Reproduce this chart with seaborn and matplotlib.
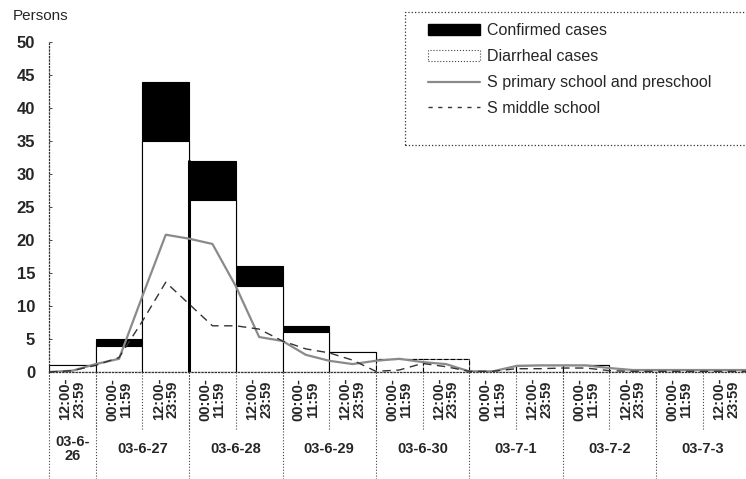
import numpy as np
import matplotlib
matplotlib.use('Agg')
import matplotlib.pyplot as plt
from matplotlib.patches import Patch, Rectangle
from matplotlib.lines import Line2D
import seaborn as sns

# half-day slots from 03-6-26 12:00 to 03-7-3 23:59
slot_labels = ['12:00-\n23:59'] + ['00:00-\n11:59', '12:00-\n23:59'] * 7
dates = ['03-6-\n26', '03-6-27', '03-6-28', '03-6-29', '03-6-30', '03-7-1', '03-7-2', '03-7-3']
date_slots = [1, 2, 2, 2, 2, 2, 2, 2]

diarrheal = [1, 4, 35, 26, 13, 6, 3, 2, 2, 0, 1, 1, 0, 0, 0]
confirmed = [0, 1, 9, 6, 3, 1, 0, 0, 0, 0, 0, 0, 0, 0, 0]

# school curves, one point every 6 hours starting 03-6-26 12:00
hours = list(range(0, 181, 6))
primary = [0, 0.2, 1.2, 2, 11.5, 20.8, 20.2, 19.4, 13, 5.3, 4.7, 2.6, 1.7, 1.2, 1.7, 2,
           1.5, 1.2, 0.1, 0.1, 0.9, 1, 1, 1, 0.6, 0.3, 0.3, 0.3, 0.3, 0.3, 0.3]
middle = [0, 0.2, 1, 2.2, 7.7, 13.6, 10.3, 7, 7, 6.5, 4.7, 3.5, 2.9, 1.8, 0.1, 0.3,
          1.3, 0.8, 0.1, 0.1, 0.5, 0.5, 0.6, 0.6, 0.2, 0.1, 0.1, 0.1, 0.1, 0.1, 0.1]

sns.set_style('white')
plt.rcParams['font.family'] = ['Liberation Sans', 'DejaVu Sans']

fig = plt.figure(figsize=(7.46, 4.79), dpi=100)
ax = fig.add_axes([49 / 746, 107 / 479, 697 / 746, 330 / 479])

slots = list(range(len(diarrheal)))
total = [d + c for d, c in zip(diarrheal, confirmed)]
# black total first, white diarrheal over it -> stacked look
sns.barplot(x=slots, y=total, color='black', width=1, saturation=1,
            edgecolor='black', linewidth=0.8, ax=ax)
sns.barplot(x=slots, y=diarrheal, color='white', width=1, saturation=1,
            edgecolor='black', linewidth=0.8, ax=ax)
white_bars = ax.patches[len(slots):]
for p in white_bars[7:9]:
    p.set_linestyle((0, (4, 2)))
# heavy left edge of the 03-6-28 morning bar
b = white_bars[3]
ax.plot([b.get_x(), b.get_x()], [0, total[3]], color='black', lw=2.2)

pos = [h / 12 - 0.5 for h in hours]
sns.lineplot(x=pos, y=primary, color='#8a8a8a', lw=1.6, ax=ax)
sns.lineplot(x=pos, y=middle, color='#333333', lw=1.0, linestyle=(0, (6, 4)), ax=ax)

ax.set_xlim(-0.5, -0.5 + 697 / 46.7)
ax.set_ylim(0, 50)
ax.set_yticks(range(0, 51, 5))
ax.set_xticks([])
ax.set_xlabel('')
ax.set_ylabel('')
ax.tick_params(axis='y', left=True, direction='in', length=2.5, width=0.6,
               labelsize=12, pad=10)
for t in ax.get_yticklabels():
    t.set_fontweight('bold')
for s in ['top', 'right']:
    ax.spines[s].set_visible(False)
for s in ['left', 'bottom']:
    ax.spines[s].set_linestyle(':')
    ax.spines[s].set_linewidth(0.9)
    ax.spines[s].set_color('#333333')

# table of time slots and dates below the axis
for e in np.arange(len(slots) + 1) - 0.5:
    ax.plot([e, e], [0, -8.6], color='#444444', ls=':', lw=0.8, clip_on=False)
for i, lab in enumerate(slot_labels):
    ax.text(i, -0.9, lab, rotation=90, ha='center', va='top', fontsize=10.5,
            fontweight='bold', linespacing=1.0)
start = 0
for d, n in zip(dates, date_slots):
    ax.plot([start - 0.5, start - 0.5], [0, -17], color='#444444', ls=':', lw=0.8, clip_on=False)
    ax.text(start + n / 2 - 0.5, -11.6, d, ha='center', va='center', fontsize=10.5,
            fontweight='bold', linespacing=1.0)
    start += n
ax.plot([start - 0.5, start - 0.5], [0, -17], color='#444444', ls=':', lw=0.8, clip_on=False)

fig.text(13 / 746, 1 - 16 / 479, 'Persons', fontsize=11, va='center')

handles = [Patch(facecolor='black', edgecolor='black'),
           Patch(facecolor='white', edgecolor='#444444', lw=0.8, linestyle=':'),
           Line2D([], [], color='#8a8a8a', lw=1.6),
           Line2D([], [], color='#333333', lw=1.0, linestyle=(0, (3, 4)))]
labels = ['Confirmed cases', 'Diarrheal cases', 'S primary school and preschool', 'S middle school']
fig.legend(handles, labels, loc='upper left', bbox_to_anchor=(422 / 746, 1 - 17 / 479),
           frameon=False, fontsize=11.5, handlelength=3.2, handletextpad=0.5,
           labelspacing=0.68, borderaxespad=0)
fig.patches.append(Rectangle((405 / 746, 1 - 145 / 479), 360 / 746, 133 / 479, fill=False,
                             ls=':', lw=0.9, ec='#333333', transform=fig.transFigure))

fig.savefig('out.png', dpi=100)
